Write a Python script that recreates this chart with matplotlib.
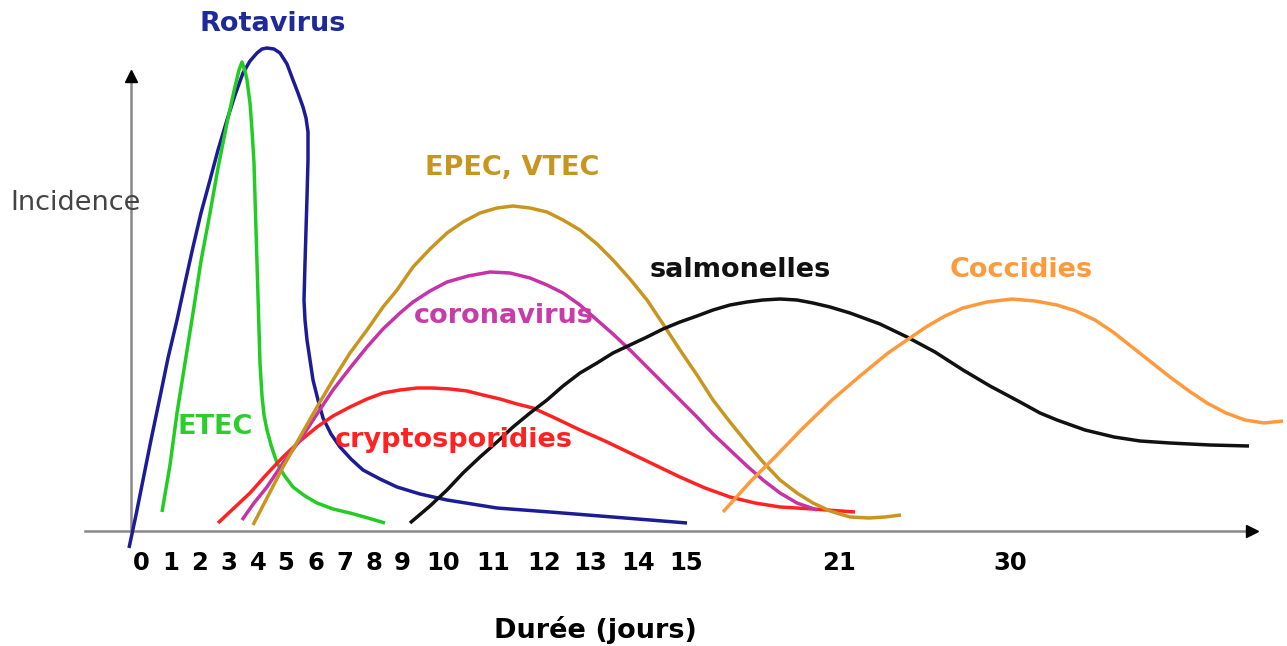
import matplotlib
matplotlib.use("Agg")
import matplotlib.pyplot as plt

# x positions of the (non linear) day axis and their labels
tick_pos = [141, 171, 200, 229, 258, 286, 316, 345, 374, 402, 443, 493, 544, 590, 638, 686, 839, 1010]
tick_labels = ["0", "1", "2", "3", "4", "5", "6", "7", "8", "9", "10", "11", "12", "13", "14", "15", "21", "30"]

# curves: x position, incidence
rota_x = [129, 136, 143, 151, 160, 168, 177, 185, 193, 201, 210, 218, 227, 235, 243, 250, 257, 262, 267, 274,
          280, 287, 293, 298, 303, 306, 308, 308, 307, 306, 305, 304, 305, 307, 310, 313, 318, 323, 331, 340,
          351, 363, 380, 397, 420, 447, 497, 550, 600, 650, 687]
rota_y = [-17, 16, 51, 91, 134, 173, 211, 248, 284, 318, 351, 381, 411, 436, 458, 470, 478, 482, 483, 482,
          478, 467, 451, 438, 424, 413, 399, 371, 334, 301, 268, 231, 211, 191, 171, 151, 131, 113, 97, 84,
          72, 61, 52, 44, 37, 31, 23, 19, 15, 11, 8]

etec_x = [162, 170, 177, 185, 193, 201, 210, 218, 227, 234, 239, 242, 245, 247, 250, 252, 254, 255, 256, 257,
          258, 259, 260, 262, 264, 267, 271, 277, 284, 293, 305, 317, 333, 350, 368, 385]
etec_y = [19, 66, 118, 168, 218, 270, 318, 363, 408, 440, 461, 469, 460, 451, 428, 401, 368, 334, 301, 268,
          235, 201, 168, 135, 116, 101, 86, 68, 56, 44, 35, 28, 22, 18, 13, 8]

crypto_x = [218, 234, 250, 266, 283, 300, 317, 333, 350, 367, 383, 400, 417, 433, 450, 467, 483, 500, 517, 533,
            555, 580, 605, 630, 655, 680, 705, 730, 755, 780, 813, 855]
crypto_y = [8, 23, 38, 56, 74, 90, 104, 115, 124, 132, 138, 141, 143, 143, 142, 140, 136, 132, 127, 123,
            113, 101, 90, 78, 66, 54, 43, 34, 28, 24, 22, 19]

corona_x = [242, 254, 267, 283, 300, 317, 333, 350, 367, 383, 400, 413, 430, 447, 468, 490, 510, 530, 547, 563,
            580, 597, 613, 630, 647, 663, 680, 697, 713, 730, 747, 763, 780, 797, 817]
corona_y = [11, 28, 44, 68, 91, 117, 141, 163, 184, 202, 218, 229, 240, 249, 255, 259, 258, 253, 246, 238,
            226, 211, 197, 181, 164, 148, 131, 114, 97, 81, 65, 51, 38, 28, 21]

epec_x = [253, 268, 283, 300, 317, 333, 350, 367, 383, 397, 413, 430, 447, 463, 480, 497, 513, 530, 547, 563,
          580, 597, 613, 630, 647, 663, 680, 697, 713, 730, 747, 763, 780, 797, 813, 830, 850, 869, 885, 901]
epec_y = [6, 35, 64, 94, 124, 151, 178, 201, 224, 241, 264, 282, 298, 309, 318, 323, 325, 323, 319, 311,
          301, 287, 271, 252, 231, 207, 181, 156, 131, 109, 88, 69, 51, 38, 28, 20, 14, 13, 14, 16]

salmo_x = [410, 430, 447, 463, 480, 497, 513, 530, 547, 563, 580, 597, 613, 630, 647, 663, 680, 697, 713, 730,
           747, 763, 780, 797, 813, 830, 850, 880, 907, 935, 963, 990, 1020, 1040, 1057, 1085, 1114, 1140, 1170,
           1210, 1249]
salmo_y = [8, 25, 41, 58, 74, 89, 104, 118, 131, 145, 158, 168, 178, 186, 194, 202, 209, 215, 221, 226,
           229, 231, 232, 231, 228, 224, 218, 207, 194, 179, 161, 145, 129, 118, 111, 101, 94, 90, 88,
           86, 85]

cocci_x = [723, 750, 775, 803, 832, 860, 888, 907, 926, 945, 963, 987, 1012, 1035, 1057, 1076, 1095, 1113, 1132,
           1151, 1170, 1189, 1207, 1226, 1245, 1264, 1283]
cocci_y = [19, 49, 74, 103, 131, 155, 178, 191, 204, 215, 223, 229, 232, 230, 226, 220, 211, 199, 184,
           169, 154, 140, 128, 118, 111, 108, 110]

curves = [
    (rota_x, rota_y, "#1c1c96"),
    (etec_x, etec_y, "#22cc22"),
    (crypto_x, crypto_y, "#ff2222"),
    (corona_x, corona_y, "#c633a6"),
    (epec_x, epec_y, "#c8961e"),
    (salmo_x, salmo_y, "#111111"),
    (cocci_x, cocci_y, "#ff9a3c"),
]

# label text, x, y, colour
labels = [
    ("Rotavirus", 273, 507, "#1f2a9a"),
    ("ETEC", 215, 104, "#2ecc2e"),
    ("cryptosporidies", 454, 91, "#ff2222"),
    ("coronavirus", 504, 215, "#c83ca8"),
    ("EPEC, VTEC", 512, 363, "#c8961e"),
    ("salmonelles", 740, 261, "#111111"),
    ("Coccidies", 1021, 261, "#ff9a3c"),
]

fig = plt.figure(figsize=(12.87, 6.46), dpi=100)
ax = fig.add_axes([0, 0, 1, 1])
ax.set_xlim(0, 1287)
ax.set_ylim(-115, 531)
ax.axis("off")

# axes with arrows
ax.plot([85, 1250], [0, 0], color="#888888", lw=1.8, zorder=1)
ax.plot([131, 131], [0, 452], color="#888888", lw=1.8, zorder=1)
ax.plot([1252], [0], marker=">", color="black", markersize=9, zorder=2)
ax.plot([131], [455], marker="^", color="black", markersize=9, zorder=2)

for cx, cy, col in curves:
    ax.plot(cx, cy, color=col, lw=2.5, solid_capstyle="butt", solid_joinstyle="round", zorder=3)

for txt, lx, ly, col in labels:
    ax.text(lx, ly, txt, color=col, fontsize=19.5, fontweight="bold", ha="center", va="center", zorder=4)

for p, lab in zip(tick_pos, tick_labels):
    ax.text(p, -32, lab, fontsize=17.5, fontweight="bold", ha="center", va="center")

ax.text(10, 328, "Incidence", fontsize=19.5, color="#444444", ha="left", va="center")
ax.text(595, -99, "Durée (jours)", fontsize=19.5, fontweight="bold", ha="center", va="center")

fig.savefig("out.png", dpi=100, facecolor="white")
